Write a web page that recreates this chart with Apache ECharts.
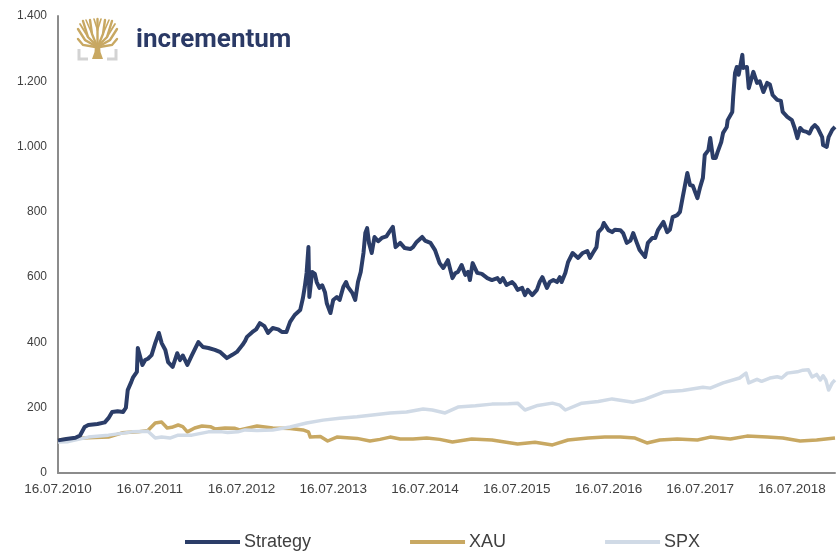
<!DOCTYPE html>
<html>
<head>
<meta charset="utf-8">
<script src="https://cdn.jsdelivr.net/npm/echarts@6/dist/echarts.min.js"></script>
<style>
html,body{margin:0;padding:0;background:#fff;}
#chart{width:837px;height:552px;}
</style>
</head>
<body>
<div id="chart"></div>
<script>
// Dates as decimal years (16.07.2010 = 2010.54)
var startYear = 2010.54;
var tickYears = ['16.07.2010','16.07.2011','16.07.2012','16.07.2013','16.07.2014','16.07.2015','16.07.2016','16.07.2017','16.07.2018'];

var strategyDates = [2010.54,2010.63,2010.73,2010.78,2010.83,2010.87,2010.97,2011.05,2011.09,2011.13,2011.19,2011.25,2011.28,2011.30,2011.34,2011.36,2011.40,2011.41,2011.43,2011.46,2011.49,2011.52,2011.56,2011.60,2011.64,2011.67,2011.71,2011.74,2011.79,2011.84,2011.87,2011.90,2011.95,2012.00,2012.07,2012.12,2012.18,2012.25,2012.31,2012.38,2012.44,2012.49,2012.55,2012.58,2012.60,2012.66,2012.70,2012.74,2012.79,2012.83,2012.88,2012.94,2012.98,2013.03,2013.07,2013.12,2013.18,2013.21,2013.23,2013.25,2013.27,2013.28,2013.31,2013.34,2013.36,2013.39,2013.42,2013.45,2013.47,2013.51,2013.54,2013.58,2013.61,2013.65,2013.68,2013.70,2013.75,2013.78,2013.81,2013.84,2013.87,2013.89,2013.91,2013.93,2013.96,2013.99,2014.03,2014.07,2014.12,2014.15,2014.19,2014.22,2014.27,2014.32,2014.38,2014.41,2014.45,2014.51,2014.54,2014.60,2014.65,2014.70,2014.74,2014.79,2014.84,2014.87,2014.90,2014.94,2014.98,2015.01,2015.03,2015.06,2015.11,2015.16,2015.22,2015.27,2015.33,2015.36,2015.39,2015.43,2015.49,2015.52,2015.55,2015.60,2015.63,2015.66,2015.71,2015.76,2015.79,2015.82,2015.87,2015.90,2015.94,2015.98,2016.01,2016.03,2016.07,2016.10,2016.15,2016.21,2016.26,2016.31,2016.34,2016.37,2016.41,2016.43,2016.47,2016.49,2016.54,2016.58,2016.61,2016.67,2016.70,2016.74,2016.78,2016.81,2016.85,2016.88,2016.94,2016.97,2017.02,2017.05,2017.08,2017.14,2017.18,2017.21,2017.24,2017.29,2017.32,2017.35,2017.40,2017.43,2017.46,2017.51,2017.54,2017.57,2017.59,2017.63,2017.65,2017.68,2017.71,2017.73,2017.77,2017.79,2017.83,2017.84,2017.89,2017.90,2017.92,2017.94,2017.96,2018.00,2018.01,2018.05,2018.07,2018.12,2018.16,2018.19,2018.23,2018.27,2018.30,2018.33,2018.38,2018.42,2018.44,2018.49,2018.54,2018.57,2018.60,2018.63,2018.66,2018.70,2018.73,2018.76,2018.79,2018.82,2018.87,2018.88,2018.92,2018.94,2018.98,2019.01];
var strategyValues = [100,104,108,115,141,147,150,155,168,187,189,187,200,254,280,294,310,383,378,331,346,350,361,398,429,398,377,340,325,367,346,360,331,361,401,386,383,377,370,352,362,371,392,405,417,432,440,459,450,429,444,440,432,432,463,484,499,536,570,613,692,539,616,610,585,567,575,554,520,490,530,539,530,570,585,570,551,530,585,616,674,735,750,705,674,723,710,720,725,738,754,692,705,689,686,692,708,723,712,705,683,643,628,652,597,612,616,637,607,616,591,643,613,610,597,591,597,585,597,576,585,576,561,567,545,561,545,561,585,600,567,585,591,585,600,585,613,646,674,659,674,680,659,674,692,738,750,766,744,738,745,744,735,705,712,735,705,683,662,705,720,720,744,769,738,745,784,790,800,845,919,882,880,842,876,904,974,989,1026,965,965,983,1014,1042,1060,1081,1106,1152,1225,1244,1220,1281,1241,1244,1179,1229,1195,1200,1167,1195,1190,1158,1143,1140,1106,1091,1081,1057,1026,1057,1048,1045,1040,1057,1066,1057,1029,1005,999,1029,1051,1060];

var xauDates = [2010.54,2010.73,2010.87,2011.09,2011.24,2011.41,2011.52,2011.60,2011.67,2011.73,2011.78,2011.85,2011.90,2011.95,2012.03,2012.11,2012.20,2012.25,2012.36,2012.47,2012.52,2012.71,2012.88,2013.07,2013.21,2013.27,2013.29,2013.40,2013.48,2013.58,2013.69,2013.80,2013.94,2014.05,2014.16,2014.27,2014.41,2014.56,2014.70,2014.84,2015.05,2015.27,2015.55,2015.74,2015.93,2016.10,2016.32,2016.50,2016.67,2016.83,2016.96,2017.10,2017.29,2017.51,2017.65,2017.87,2018.05,2018.27,2018.44,2018.63,2018.81,2019.01];
var xauValues = [101,106,108,110,123,126,130,153,156,138,140,147,142,126,138,144,142,135,138,137,132,144,138,136,132,126,110,112,98,110,108,106,98,103,110,104,104,107,103,95,104,101,89,94,86,101,107,110,110,107,92,101,104,101,110,104,113,110,107,98,101,107];

var spxDates = [2010.54,2010.65,2010.87,2011.09,2011.35,2011.52,2011.60,2011.67,2011.76,2011.85,2012.00,2012.18,2012.33,2012.39,2012.50,2012.58,2012.71,2012.88,2013.07,2013.25,2013.43,2013.61,2013.80,2013.97,2014.16,2014.34,2014.52,2014.62,2014.76,2014.90,2015.09,2015.27,2015.45,2015.55,2015.63,2015.77,2015.93,2016.01,2016.07,2016.25,2016.43,2016.58,2016.81,2016.94,2017.14,2017.35,2017.57,2017.65,2017.79,2017.97,2018.04,2018.07,2018.16,2018.21,2018.30,2018.38,2018.43,2018.49,2018.60,2018.66,2018.72,2018.76,2018.81,2018.85,2018.88,2018.91,2018.94,2018.98,2019.01];
var spxValues = [95,96,110,116,126,128,107,110,107,116,116,126,126,124,126,132,130,132,141,153,162,168,172,178,184,187,196,193,184,202,206,211,212,214,193,207,214,208,193,214,219,227,217,226,248,253,263,260,276,291,306,276,287,281,291,295,291,306,310,315,316,294,302,285,298,285,254,276,285];

var yTicks = [0,200,400,600,800,1000,1200,1400];

function pairs(dates, vals){
  var out = [];
  for (var i = 0; i < dates.length; i++) out.push([+(dates[i] - startYear).toFixed(3), vals[i]]);
  return out;
}
function fmtThousands(v){
  var s = String(v);
  return s.length > 3 ? s.slice(0, s.length-3) + '.' + s.slice(s.length-3) : s;
}

var gold = '#c8a862';
var chart = echarts.init(document.getElementById('chart'), null, {renderer:'canvas'});
var font = 'Liberation Sans, Arial, sans-serif';

chart.setOption({
  animation: false,
  backgroundColor: '#ffffff',
  grid: {left: 58, right: 2, top: 16, bottom: 79, containLabel: false},
  xAxis: {
    type: 'value', min: 0, max: 8.47, interval: 1,
    axisLine: {show: true, lineStyle: {color: '#8c8c8c', width: 2}},
    axisTick: {show: false},
    splitLine: {show: false},
    axisLabel: {
      color: '#404040', fontSize: 13.5, fontFamily: font, margin: 9, showMaxLabel: false,
      formatter: function(v){ var i = Math.round(v); return tickYears[i] || ''; }
    }
  },
  yAxis: {
    type: 'value', min: 0, max: 1400, interval: 200,
    axisLine: {show: true, lineStyle: {color: '#8c8c8c', width: 2}},
    axisTick: {show: false},
    splitLine: {show: false},
    axisLabel: {color: '#404040', fontSize: 12, fontFamily: font, margin: 11,
      formatter: function(v){ return yTicks.indexOf(v) >= 0 ? fmtThousands(v) : ''; }}
  },
  legend: {
    data: ['Strategy','XAU','SPX'],
    left: 180, top: 528,
    itemWidth: 55, itemHeight: 4, itemGap: 99,
    icon: 'rect',
    textStyle: {color: '#404040', fontSize: 18, fontFamily: font, padding: [0,0,0,-1]}
  },
  series: [
    {name: 'Strategy', type: 'line', data: pairs(strategyDates, strategyValues), showSymbol: false, symbol: 'none', z: 5,
      lineStyle: {color: '#2b3d68', width: 4, join: 'round'}, itemStyle: {color: '#2b3d68'}},
    {name: 'XAU', type: 'line', data: pairs(xauDates, xauValues), showSymbol: false, symbol: 'none', z: 3,
      lineStyle: {color: gold, width: 3.5, join: 'round'}, itemStyle: {color: gold}},
    {name: 'SPX', type: 'line', data: pairs(spxDates, spxValues), showSymbol: false, symbol: 'none', z: 4,
      lineStyle: {color: '#d0dae6', width: 3.5, join: 'round'}, itemStyle: {color: '#d0dae6'}}
  ],
  graphic: [
    {type: 'group', z: 100, children: [
      {type: 'polyline', shape: {points: [[79,49],[79,59],[88,59]]}, style: {stroke: '#d3d3d3', lineWidth: 3, fill: null}},
      {type: 'polyline', shape: {points: [[116,49],[116,59],[107,59]]}, style: {stroke: '#d3d3d3', lineWidth: 3, fill: null}},
      {type: 'polygon', shape: {points: [[92,59],[103,59],[100.5,52],[100,44],[95,44],[94.5,52]]}, style: {fill: gold}},
      {type: 'polyline', shape: {points: [[97.5,45],[97.5,19]]}, style: {stroke: gold, lineWidth: 2.4, fill: null, lineCap: 'round'}},
      {type: 'polyline', shape: {points: [[96.5,45],[92,34],[90,20]]}, style: {stroke: gold, lineWidth: 2.4, fill: null, lineCap: 'round'}},
      {type: 'polyline', shape: {points: [[96,45],[88,37],[83,21]]}, style: {stroke: gold, lineWidth: 2.4, fill: null, lineCap: 'round'}},
      {type: 'polyline', shape: {points: [[95.5,46],[85,40],[78,29]]}, style: {stroke: gold, lineWidth: 2.4, fill: null, lineCap: 'round'}},
      {type: 'polyline', shape: {points: [[95.5,47],[83,45],[78,39]]}, style: {stroke: gold, lineWidth: 2.4, fill: null, lineCap: 'round'}},
      {type: 'polyline', shape: {points: [[98.5,45],[103,34],[105,20]]}, style: {stroke: gold, lineWidth: 2.4, fill: null, lineCap: 'round'}},
      {type: 'polyline', shape: {points: [[99,45],[107,37],[112,21]]}, style: {stroke: gold, lineWidth: 2.4, fill: null, lineCap: 'round'}},
      {type: 'polyline', shape: {points: [[99.5,46],[110,40],[117,29]]}, style: {stroke: gold, lineWidth: 2.4, fill: null, lineCap: 'round'}},
      {type: 'polyline', shape: {points: [[99.5,47],[112,45],[117,39]]}, style: {stroke: gold, lineWidth: 2.4, fill: null, lineCap: 'round'}},
      {type: 'polyline', shape: {points: [[88,37],[80,24]]}, style: {stroke: gold, lineWidth: 1.8, fill: null, lineCap: 'round'}},
      {type: 'polyline', shape: {points: [[107,37],[115,24]]}, style: {stroke: gold, lineWidth: 1.8, fill: null, lineCap: 'round'}},
      {type: 'polyline', shape: {points: [[92,34],[86,20]]}, style: {stroke: gold, lineWidth: 1.6, fill: null, lineCap: 'round'}},
      {type: 'polyline', shape: {points: [[103,34],[109,20]]}, style: {stroke: gold, lineWidth: 1.6, fill: null, lineCap: 'round'}},
      {type: 'polyline', shape: {points: [[97.5,30],[94,19]]}, style: {stroke: gold, lineWidth: 1.6, fill: null, lineCap: 'round'}},
      {type: 'polyline', shape: {points: [[97.5,30],[101,19]]}, style: {stroke: gold, lineWidth: 1.6, fill: null, lineCap: 'round'}},
      {type: 'text', x: 136, y: 40, style: {text: 'incrementum', fill: '#2b3a66', font: 'bold 26px Roboto, sans-serif', textVerticalAlign: 'middle', verticalAlign: 'middle'}}
    ]}
  ]
});
</script>
</body>
</html>
